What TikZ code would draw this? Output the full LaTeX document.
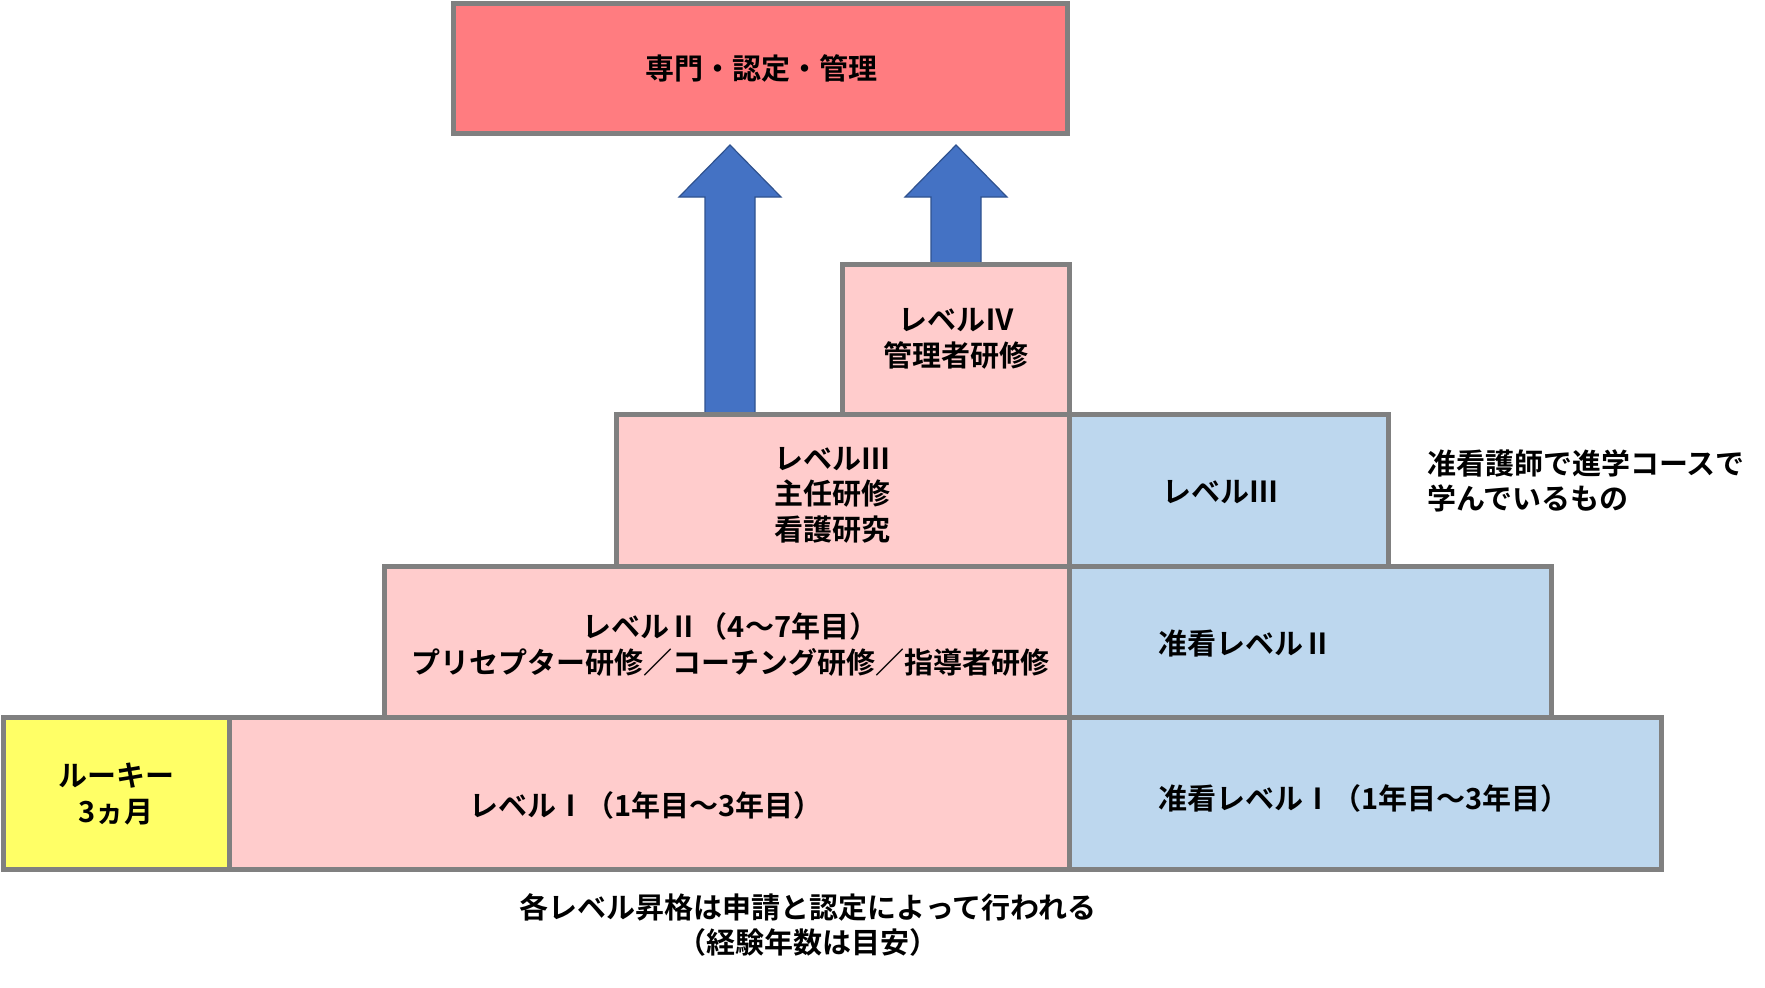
\documentclass[tikz,border=0pt]{standalone}
\usepackage{fontspec}
\setmainfont{Noto Sans CJK JP}[BoldFont={Noto Sans CJK JP Bold}]
\usetikzlibrary{positioning,fit,calc}
\definecolor{lvTop}{HTML}{FF7C80}
\definecolor{lvPink}{HTML}{FFCCCC}
\definecolor{lvBlue}{HTML}{BDD7EE}
\definecolor{lvRookie}{HTML}{FFFF66}
\definecolor{lvArrow}{HTML}{4472C4}
\definecolor{lvArrowEdge}{HTML}{2F528F}
\definecolor{lvEdge}{HTML}{808080}
\tikzset{
  lvtext/.style={font=\bfseries\fontsize{14.5}{17.75}\selectfont, align=center, inner sep=0pt},
  lvbox/.style={draw=lvEdge, line width=2.5pt, inner sep=0pt},
  topbox/.style={lvbox, fill=lvTop},
  pinkbox/.style={lvbox, fill=lvPink},
  bluebox/.style={lvbox, fill=lvBlue},
  rookiebox/.style={lvbox, fill=lvRookie},
  uparrow/.style={fill=lvArrow, draw=lvArrowEdge, line width=0.6pt, line join=miter},
  note/.style={lvtext}
}
\begin{document}
\begin{tikzpicture}[x=0.5pt, y=-0.5pt]
  \useasboundingbox (0,0) rectangle (1765,987);
  % arrows towards the top box
  \foreach \cx/\yb in {730/414, 956/263}{
    \draw[uparrow] (\cx-25,\yb) -- (\cx-25,197) -- (\cx-51,197) -- (\cx,145)
      -- (\cx+51,197) -- (\cx+25,197) -- (\cx+25,\yb) -- cycle;
  }
  % boxes
  \node[topbox, fit={(453,3) (1067,133)}] (top) {};
  \node[pinkbox, fit={(842,264) (1069,414)}] (lvIV) {};
  \node[pinkbox, fit={(616,414) (1069,566)}] (lvIIIp) {};
  \node[pinkbox, fit={(384,566) (1069,717)}] (lvIIp) {};
  \node[rookiebox, fit={(3,717) (229,869)}] (rookie) {};
  \node[pinkbox, fit={(229,717) (1069,869)}] (lvIp) {};
  \node[bluebox, fit={(1069,414) (1388,566)}] (lvIIIb) {};
  \node[bluebox, fit={(1069,566) (1551,717)}] (lvIIb) {};
  \node[bluebox, fit={(1069,717) (1661,869)}] (lvIb) {};
  % labels
  \node[lvtext] (topText) at (761,68) {専門・認定・管理};
  \node[lvtext] (lvIVText) at (956,339) {レベルⅣ\\管理者研修};
  \node[lvtext] (lvIIIpText) at (832,495) {レベルⅢ\\主任研修\\看護研究};
  \node[lvtext] (lvIIIbText) at (1220,492) {レベルⅢ};
  \node[lvtext] (lvIIpText) at (730.5,644.5) {レベルⅡ（4～7年目）\\プリセプター研修／コーチング研修／指導者研修};
  \node[lvtext] (lvIIbText) at (1245,643) {准看レベルⅡ};
  \node[lvtext] (rookieText) at (116,794) {ルーキー\\3ヵ月};
  \node[lvtext] (lvIpText) at (646,805) {レベルⅠ（1年目～3年目）};
  \node[lvtext] (lvIbText) at (1364,798) {准看レベルⅠ（1年目～3年目）};
  % notes
  \node[note, align=left, anchor=west] (side) at (1427,481) {准看護師で進学コースで\\学んでいるもの};
  \node[note] (bottom) at (808,925) {各レベル昇格は申請と認定によって行われる\\（経験年数は目安）};
\end{tikzpicture}
\end{document}
